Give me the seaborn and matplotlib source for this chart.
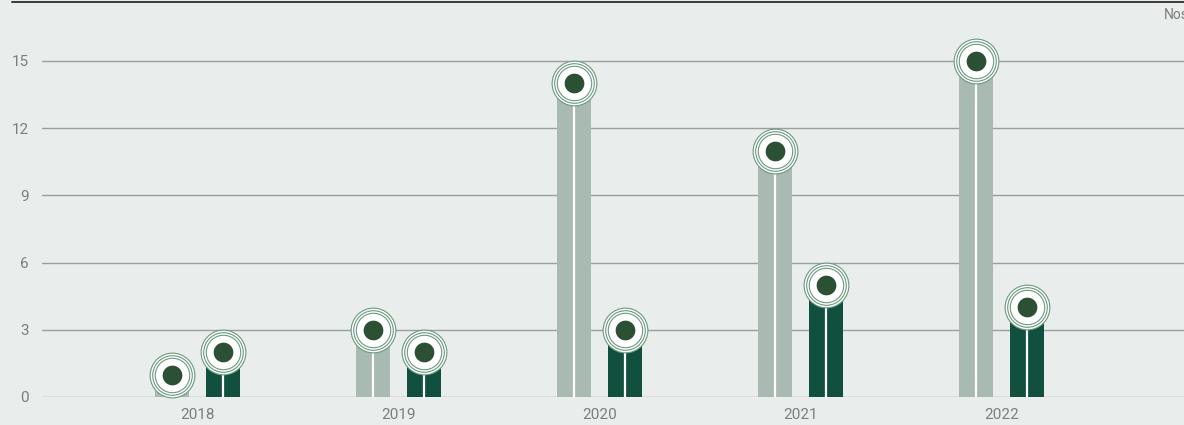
import matplotlib
matplotlib.use("Agg")
import matplotlib.pyplot as plt
import seaborn as sns
import pandas as pd

years = ["2018", "2019", "2020", "2021", "2022"]
series_a = [1, 3, 14, 11, 15]
series_b = [2, 2, 3, 5, 4]
series_names = ["A", "B"]
yticks = [0, 3, 6, 9, 12, 15]
unit_label = "Nos."

BG = "#e9eeec"
LIGHT = "#a8bab1"
DARK = "#11503f"
DOT = "#2b5034"
RING = "#6a987c"
GRID = "#9c9e9d"
TXT = "#7d7d7d"

df = pd.DataFrame({
    "year": years * 2,
    "value": series_a + series_b,
    "series": [series_names[0]] * len(years) + [series_names[1]] * len(years),
})

sns.set_theme(style="white")
plt.rcParams["font.family"] = ["Roboto", "DejaVu Sans"]

W, H = 1184, 425
fig = plt.figure(figsize=(W / 100, H / 100), dpi=100, facecolor=BG)
left, right, bottom, top = 42, 1184, 397, 2
ax = fig.add_axes([left / W, (H - bottom) / H, (right - left) / W, (bottom - top) / H])
ax.set_facecolor(BG)

sns.barplot(data=df, x="year", y="value", hue="series", palette=[LIGHT, DARK],
            width=0.507, gap=0.333, dodge=True, ax=ax, legend=False,
            saturation=1, edgecolor="none", linewidth=0, zorder=2)

ax.set_xlim(-0.775, 4.909)
ax.set_ylim(0, 17.63)
ax.set_yticks(yticks)
ax.set_yticklabels([str(t) for t in yticks])
for t in yticks:
    ax.axhline(t, color=GRID, lw=1.0, zorder=1)
ax.tick_params(axis="y", length=0, pad=9.5, labelsize=11, labelcolor=TXT)
ax.tick_params(axis="x", length=0, pad=8, labelsize=11, labelcolor=TXT)
ax.set_xlabel("")
ax.set_ylabel("")
for s in ax.spines.values():
    s.set_visible(False)

# markers at top of each bar
for cont in ax.containers:
    for p in cont.patches:
        cx = p.get_x() + p.get_width() / 2
        h = p.get_height()
        ax.vlines(cx, 0, h, color="white", lw=1.6, zorder=3)
        for d in (32.2, 28.5, 24.8):
            ax.plot([cx], [h], marker="o", ms=d, mfc="white", mec=RING, mew=0.8,
                    zorder=4, clip_on=False)
        ax.plot([cx], [h], marker="o", ms=14.2, mfc=DOT, mec=DOT, mew=0,
                zorder=5, clip_on=False)

# top rule
fig.add_artist(plt.Line2D([12 / W, 1.0], [1 - 2 / H, 1 - 2 / H], color="#3a3a3a",
                          lw=1.4, transform=fig.transFigure))
fig.text(1164 / W, 1 - 15 / H, unit_label, ha="left", va="center", fontsize=10,
         color=TXT)

fig.savefig("out.png", dpi=100, facecolor=BG)
